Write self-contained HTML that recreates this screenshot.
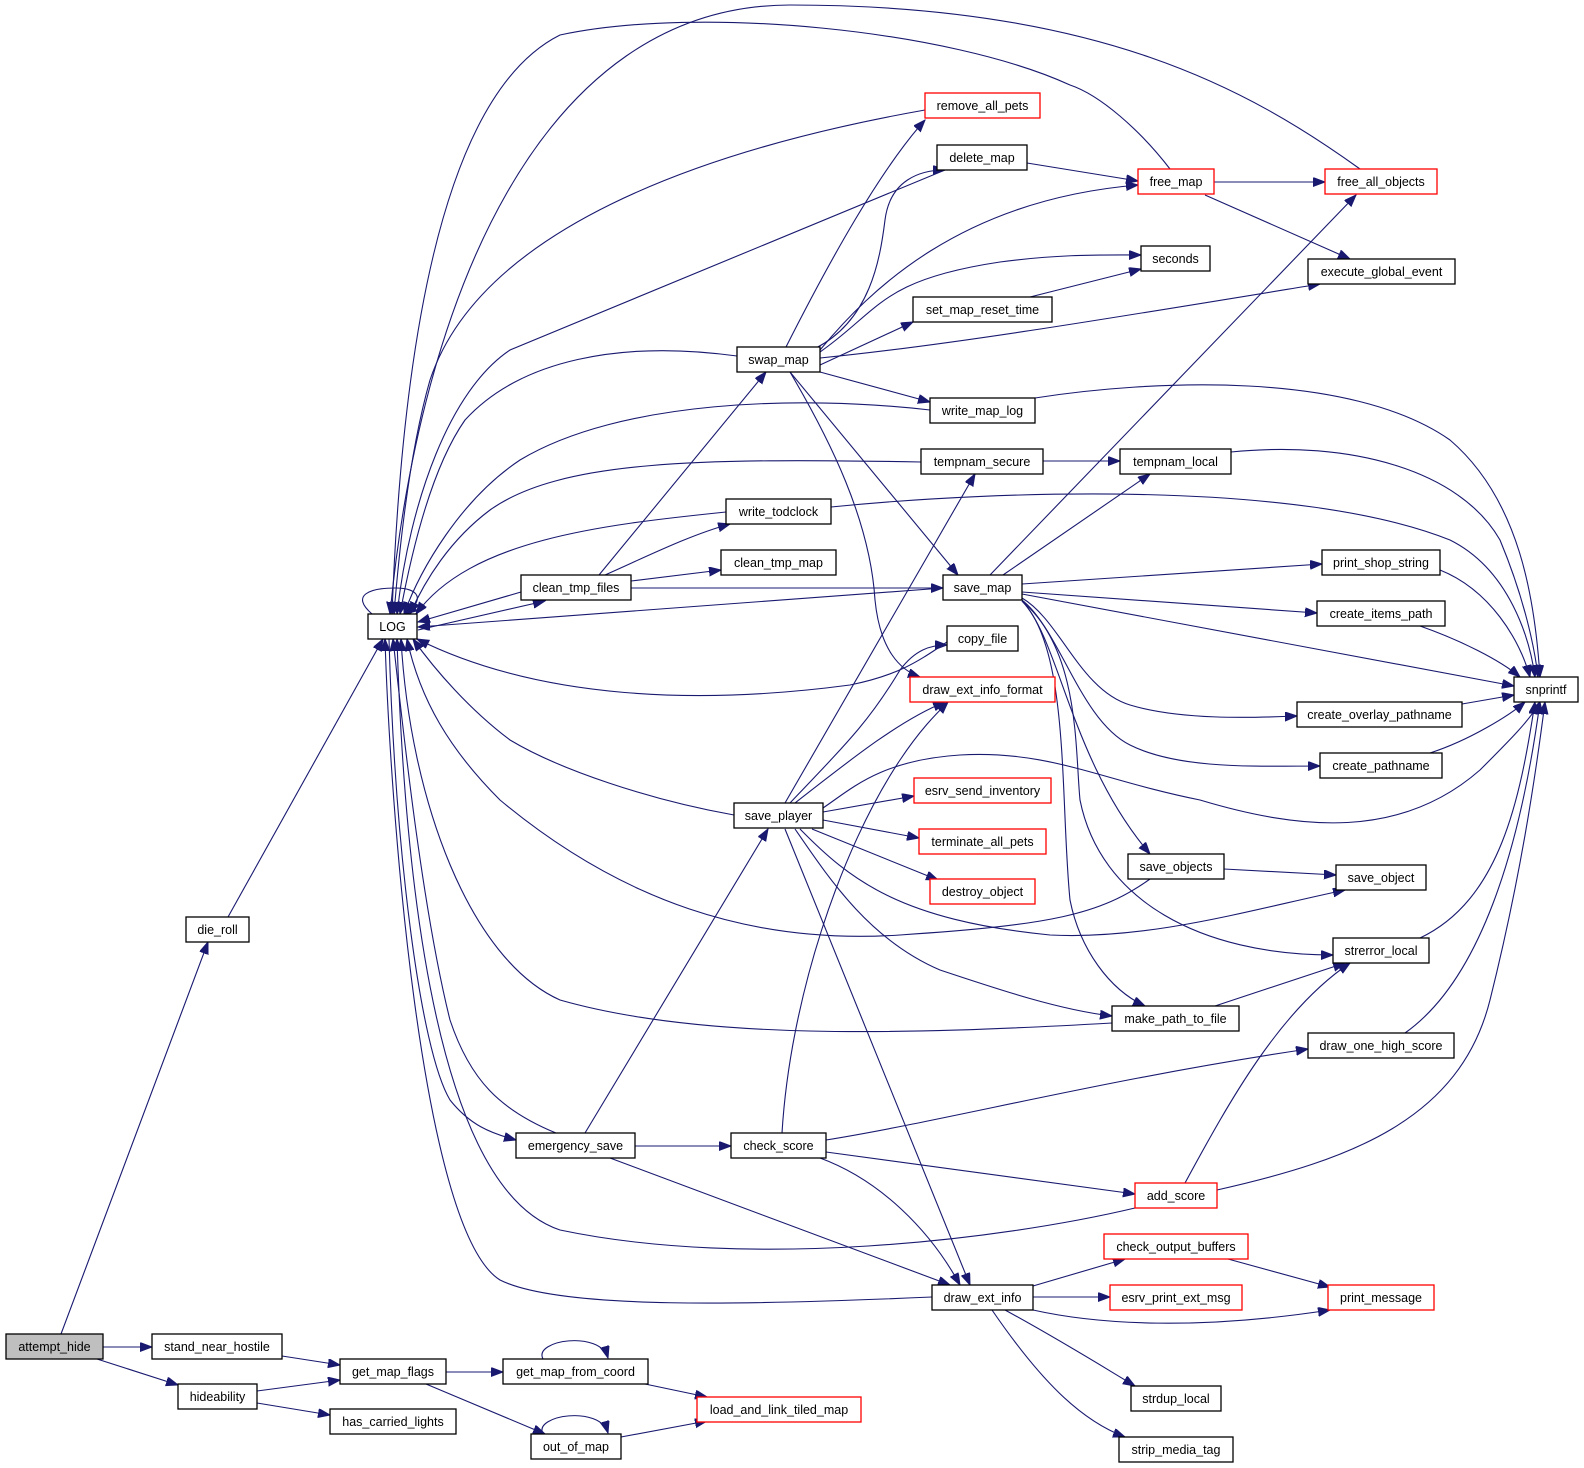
<!DOCTYPE html>
<html><head><meta charset="utf-8"><style>
html,body{margin:0;padding:0;background:#fff;}
svg{display:block;}
text{font-family:"Liberation Sans",sans-serif;font-size:12.5px;fill:#000;}
.e{fill:none;stroke:#191970;stroke-width:1.1;marker-end:url(#a);}
</style></head><body>
<svg width="1584" height="1468" viewBox="0 0 1584 1468" xmlns="http://www.w3.org/2000/svg">
<defs><marker id="a" markerUnits="userSpaceOnUse" markerWidth="13" markerHeight="10" refX="12" refY="4.5" orient="auto"><path d="M0,0 L12,4.5 L0,9 z" fill="#191970" stroke="#191970"/></marker></defs>
<g>
<path class="e" d="M103,1347 L152,1347"/>
<path class="e" d="M97,1359 L178,1385"/>
<path class="e" d="M61,1334 L208,942"/>
<path class="e" d="M282,1356 L340,1365"/>
<path class="e" d="M257,1391 L340,1380"/>
<path class="e" d="M257,1403 L330,1415"/>
<path class="e" d="M446,1372 L503,1372"/>
<path class="e" d="M426,1384 L545,1434"/>
<path class="e" d="M543,1359 C533,1340 600,1330 608,1358"/>
<path class="e" d="M645,1384 L707,1397"/>
<path class="e" d="M543,1434 C533,1415 600,1405 608,1433"/>
<path class="e" d="M621,1437 L707,1421"/>
<path class="e" d="M228,917 L383,639"/>
<path class="e" d="M372,614 C350,595 370,588 395,588 C420,588 425,600 405,614"/>
<path class="e" d="M521,592 L418,622"/>
<path class="e" d="M418,630 L545,601"/>
<path class="e" d="M943,588 L418,627"/>
<path class="e" d="M1360,169 C1250,90 1100,5 790,5 C540,5 420,300 390,614"/>
<path class="e" d="M1170,169 C1140,130 1100,95 1070,85 C950,30 700,5 560,35 C430,100 400,400 392,614"/>
<path class="e" d="M925,110 C700,150 480,230 430,380 C410,450 400,540 394,614"/>
<path class="e" d="M945,170 L510,350 C450,390 410,500 397,614"/>
<path class="e" d="M737,356 C620,340 520,360 465,420 C430,470 410,560 400,614"/>
<path class="e" d="M930,410 C800,395 620,400 520,460 C460,500 420,570 404,614"/>
<path class="e" d="M921,462 C700,458 560,460 490,510 C450,540 425,580 410,614"/>
<path class="e" d="M726,512 C600,525 470,540 416,614"/>
<path class="e" d="M947,642 C920,660 900,675 850,685 C700,705 540,700 417,639"/>
<path class="e" d="M734,815 C650,800 560,770 510,740 C470,710 435,670 413,639"/>
<path class="e" d="M1150,879 C1100,915 1050,925 900,935 C750,945 620,900 500,800 C450,750 420,700 407,639"/>
<path class="e" d="M1112,1023 C900,1035 700,1040 560,1000 C470,960 410,800 401,639"/>
<path class="e" d="M1135,1208 C1000,1240 750,1270 560,1230 C440,1190 405,900 397,639"/>
<path class="e" d="M556,1133 C500,1110 470,1080 450,1020 C420,900 400,700 393,639"/>
<path class="e" d="M389,639 C395,850 420,1050 450,1100 C470,1125 490,1133 516,1140"/>
<path class="e" d="M932,1297 C750,1305 560,1310 500,1280 C420,1230 390,800 385,639"/>
<path class="e" d="M786,347 C830,260 880,170 925,120"/>
<path class="e" d="M816,348 C870,320 880,260 885,220 C890,180 920,170 945,170"/>
<path class="e" d="M820,350 C870,290 960,200 1138,185"/>
<path class="e" d="M820,352 C880,310 880,280 1000,262 C1060,254 1100,255 1141,255"/>
<path class="e" d="M820,365 L913,322"/>
<path class="e" d="M820,358 C950,345 1100,320 1320,284"/>
<path class="e" d="M820,372 L930,402"/>
<path class="e" d="M790,372 L958,575"/>
<path class="e" d="M790,372 C830,440 870,520 875,600 C880,650 900,670 920,677"/>
<path class="e" d="M1027,163 L1138,181"/>
<path class="e" d="M1214,182 L1325,182"/>
<path class="e" d="M1205,195 L1350,259"/>
<path class="e" d="M1030,297 L1141,269"/>
<path class="e" d="M1035,398 C1150,380 1350,370 1450,440 C1520,500 1535,600 1540,677"/>
<path class="e" d="M1043,461 L1120,461"/>
<path class="e" d="M1231,452 C1350,440 1460,470 1500,540 C1525,600 1535,650 1538,677"/>
<path class="e" d="M831,507 C1000,490 1300,480 1450,540 C1510,570 1530,640 1535,677"/>
<path class="e" d="M599,575 L766,372"/>
<path class="e" d="M605,575 C650,555 690,535 730,524"/>
<path class="e" d="M631,581 L721,570"/>
<path class="e" d="M631,588 L943,588"/>
<path class="e" d="M990,575 L1356,195"/>
<path class="e" d="M1003,575 L1150,474"/>
<path class="e" d="M1022,584 L1322,564"/>
<path class="e" d="M1022,592 L1317,613"/>
<path class="e" d="M1022,594 L1514,686"/>
<path class="e" d="M1022,598 C1060,620 1080,690 1130,705 C1180,720 1250,718 1297,716"/>
<path class="e" d="M1022,600 C1060,630 1080,720 1130,745 C1180,770 1260,766 1320,766"/>
<path class="e" d="M1022,601 C1060,640 1070,760 1150,854"/>
<path class="e" d="M1022,601 C1070,650 1060,800 1070,900 C1080,950 1110,990 1145,1006"/>
<path class="e" d="M1022,601 C1080,650 1075,750 1080,800 C1100,900 1200,955 1333,955"/>
<path class="e" d="M1440,570 C1490,590 1520,640 1530,677"/>
<path class="e" d="M1420,626 C1460,640 1500,660 1520,677"/>
<path class="e" d="M1462,704 L1514,695"/>
<path class="e" d="M1430,753 C1470,740 1510,715 1525,702"/>
<path class="e" d="M1224,869 L1336,875"/>
<path class="e" d="M1420,938 C1500,900 1520,800 1535,702"/>
<path class="e" d="M1405,1033 C1480,980 1520,850 1540,702"/>
<path class="e" d="M1217,1190 C1350,1160 1460,1120 1490,1000 C1520,880 1535,780 1545,702"/>
<path class="e" d="M1185,1183 C1230,1100 1280,1010 1350,963"/>
<path class="e" d="M1215,1006 L1345,963"/>
<path class="e" d="M785,803 L975,474"/>
<path class="e" d="M790,803 C850,740 870,720 900,670 C915,650 930,645 947,645"/>
<path class="e" d="M795,803 C850,760 900,720 945,702"/>
<path class="e" d="M823,808 C850,790 880,760 960,755 C1050,750 1100,780 1200,800 C1300,830 1400,840 1480,770 C1510,740 1530,720 1540,702"/>
<path class="e" d="M823,812 L914,796"/>
<path class="e" d="M823,820 L919,838"/>
<path class="e" d="M812,829 L938,880"/>
<path class="e" d="M800,829 C850,880 900,920 1050,935 C1150,940 1250,910 1345,890"/>
<path class="e" d="M795,829 C830,880 870,940 940,970 C1000,990 1060,1010 1112,1016"/>
<path class="e" d="M785,829 L970,1285"/>
<path class="e" d="M585,1133 L768,829"/>
<path class="e" d="M635,1146 L731,1146"/>
<path class="e" d="M610,1158 L950,1285"/>
<path class="e" d="M782,1133 C790,1000 840,850 900,760 C920,730 935,715 948,702"/>
<path class="e" d="M826,1140 C950,1120 1100,1080 1308,1049"/>
<path class="e" d="M826,1152 L1135,1194"/>
<path class="e" d="M820,1158 C880,1180 930,1230 960,1285"/>
<path class="e" d="M1033,1286 L1125,1259"/>
<path class="e" d="M1033,1297 L1110,1297"/>
<path class="e" d="M1033,1310 C1100,1325 1200,1330 1330,1310"/>
<path class="e" d="M1005,1310 C1060,1340 1100,1365 1135,1386"/>
<path class="e" d="M992,1310 C1040,1380 1080,1420 1125,1437"/>
<path class="e" d="M1228,1259 L1330,1287"/>
</g>
<g stroke-width="1.3">
<rect x="6" y="1334" width="97" height="25" fill="#bfbfbf" stroke="#000"/><text x="54.5" y="1351" text-anchor="middle">attempt_hide</text>
<rect x="152" y="1334" width="130" height="25" fill="#fff" stroke="#000"/><text x="217" y="1351" text-anchor="middle">stand_near_hostile</text>
<rect x="178" y="1384" width="79" height="25" fill="#fff" stroke="#000"/><text x="217.5" y="1401" text-anchor="middle">hideability</text>
<rect x="340" y="1359" width="106" height="25" fill="#fff" stroke="#000"/><text x="393" y="1376" text-anchor="middle">get_map_flags</text>
<rect x="330" y="1409" width="126" height="25" fill="#fff" stroke="#000"/><text x="393" y="1426" text-anchor="middle">has_carried_lights</text>
<rect x="503" y="1359" width="145" height="25" fill="#fff" stroke="#000"/><text x="575.5" y="1376" text-anchor="middle">get_map_from_coord</text>
<rect x="531" y="1434" width="90" height="25" fill="#fff" stroke="#000"/><text x="576" y="1451" text-anchor="middle">out_of_map</text>
<rect x="697" y="1397" width="164" height="25" fill="#fff" stroke="red"/><text x="779" y="1414" text-anchor="middle">load_and_link_tiled_map</text>
<rect x="186" y="917" width="63" height="25" fill="#fff" stroke="#000"/><text x="217.5" y="934" text-anchor="middle">die_roll</text>
<rect x="368" y="614" width="49" height="25" fill="#fff" stroke="#000"/><text x="392.5" y="631" text-anchor="middle">LOG</text>
<rect x="516" y="1133" width="119" height="25" fill="#fff" stroke="#000"/><text x="575.5" y="1150" text-anchor="middle">emergency_save</text>
<rect x="731" y="1133" width="95" height="25" fill="#fff" stroke="#000"/><text x="778.5" y="1150" text-anchor="middle">check_score</text>
<rect x="734" y="803" width="89" height="25" fill="#fff" stroke="#000"/><text x="778.5" y="820" text-anchor="middle">save_player</text>
<rect x="737" y="347" width="83" height="25" fill="#fff" stroke="#000"/><text x="778.5" y="364" text-anchor="middle">swap_map</text>
<rect x="726" y="499" width="105" height="25" fill="#fff" stroke="#000"/><text x="778.5" y="516" text-anchor="middle">write_todclock</text>
<rect x="721" y="550" width="115" height="25" fill="#fff" stroke="#000"/><text x="778.5" y="567" text-anchor="middle">clean_tmp_map</text>
<rect x="521" y="575" width="110" height="25" fill="#fff" stroke="#000"/><text x="576" y="592" text-anchor="middle">clean_tmp_files</text>
<rect x="925" y="93" width="115" height="25" fill="#fff" stroke="red"/><text x="982.5" y="110" text-anchor="middle">remove_all_pets</text>
<rect x="937" y="145" width="90" height="25" fill="#fff" stroke="#000"/><text x="982" y="162" text-anchor="middle">delete_map</text>
<rect x="1138" y="169" width="76" height="25" fill="#fff" stroke="red"/><text x="1176" y="186" text-anchor="middle">free_map</text>
<rect x="1325" y="169" width="112" height="25" fill="#fff" stroke="red"/><text x="1381" y="186" text-anchor="middle">free_all_objects</text>
<rect x="1141" y="246" width="69" height="25" fill="#fff" stroke="#000"/><text x="1175.5" y="263" text-anchor="middle">seconds</text>
<rect x="1308" y="259" width="147" height="25" fill="#fff" stroke="#000"/><text x="1381.5" y="276" text-anchor="middle">execute_global_event</text>
<rect x="913" y="297" width="139" height="25" fill="#fff" stroke="#000"/><text x="982.5" y="314" text-anchor="middle">set_map_reset_time</text>
<rect x="930" y="398" width="105" height="25" fill="#fff" stroke="#000"/><text x="982.5" y="415" text-anchor="middle">write_map_log</text>
<rect x="921" y="449" width="122" height="25" fill="#fff" stroke="#000"/><text x="982" y="466" text-anchor="middle">tempnam_secure</text>
<rect x="1120" y="449" width="111" height="25" fill="#fff" stroke="#000"/><text x="1175.5" y="466" text-anchor="middle">tempnam_local</text>
<rect x="943" y="575" width="79" height="25" fill="#fff" stroke="#000"/><text x="982.5" y="592" text-anchor="middle">save_map</text>
<rect x="1322" y="550" width="118" height="25" fill="#fff" stroke="#000"/><text x="1381" y="567" text-anchor="middle">print_shop_string</text>
<rect x="1317" y="601" width="128" height="25" fill="#fff" stroke="#000"/><text x="1381" y="618" text-anchor="middle">create_items_path</text>
<rect x="947" y="626" width="71" height="25" fill="#fff" stroke="#000"/><text x="982.5" y="643" text-anchor="middle">copy_file</text>
<rect x="910" y="677" width="145" height="25" fill="#fff" stroke="red"/><text x="982.5" y="694" text-anchor="middle">draw_ext_info_format</text>
<rect x="1297" y="702" width="165" height="25" fill="#fff" stroke="#000"/><text x="1379.5" y="719" text-anchor="middle">create_overlay_pathname</text>
<rect x="1514" y="677" width="64" height="25" fill="#fff" stroke="#000"/><text x="1546" y="694" text-anchor="middle">snprintf</text>
<rect x="1320" y="753" width="122" height="25" fill="#fff" stroke="#000"/><text x="1381" y="770" text-anchor="middle">create_pathname</text>
<rect x="914" y="778" width="137" height="25" fill="#fff" stroke="red"/><text x="982.5" y="795" text-anchor="middle">esrv_send_inventory</text>
<rect x="919" y="829" width="127" height="25" fill="#fff" stroke="red"/><text x="982.5" y="846" text-anchor="middle">terminate_all_pets</text>
<rect x="930" y="879" width="105" height="25" fill="#fff" stroke="red"/><text x="982.5" y="896" text-anchor="middle">destroy_object</text>
<rect x="1128" y="854" width="96" height="25" fill="#fff" stroke="#000"/><text x="1176" y="871" text-anchor="middle">save_objects</text>
<rect x="1336" y="865" width="90" height="25" fill="#fff" stroke="#000"/><text x="1381" y="882" text-anchor="middle">save_object</text>
<rect x="1333" y="938" width="96" height="25" fill="#fff" stroke="#000"/><text x="1381" y="955" text-anchor="middle">strerror_local</text>
<rect x="1112" y="1006" width="127" height="25" fill="#fff" stroke="#000"/><text x="1175.5" y="1023" text-anchor="middle">make_path_to_file</text>
<rect x="1308" y="1033" width="146" height="25" fill="#fff" stroke="#000"/><text x="1381" y="1050" text-anchor="middle">draw_one_high_score</text>
<rect x="1135" y="1183" width="82" height="25" fill="#fff" stroke="red"/><text x="1176" y="1200" text-anchor="middle">add_score</text>
<rect x="1104" y="1234" width="144" height="25" fill="#fff" stroke="red"/><text x="1176" y="1251" text-anchor="middle">check_output_buffers</text>
<rect x="932" y="1285" width="101" height="25" fill="#fff" stroke="#000"/><text x="982.5" y="1302" text-anchor="middle">draw_ext_info</text>
<rect x="1110" y="1285" width="132" height="25" fill="#fff" stroke="red"/><text x="1176" y="1302" text-anchor="middle">esrv_print_ext_msg</text>
<rect x="1328" y="1285" width="106" height="25" fill="#fff" stroke="red"/><text x="1381" y="1302" text-anchor="middle">print_message</text>
<rect x="1131" y="1386" width="90" height="25" fill="#fff" stroke="#000"/><text x="1176" y="1403" text-anchor="middle">strdup_local</text>
<rect x="1119" y="1437" width="114" height="25" fill="#fff" stroke="#000"/><text x="1176" y="1454" text-anchor="middle">strip_media_tag</text>
</g>
</svg>
</body></html>
